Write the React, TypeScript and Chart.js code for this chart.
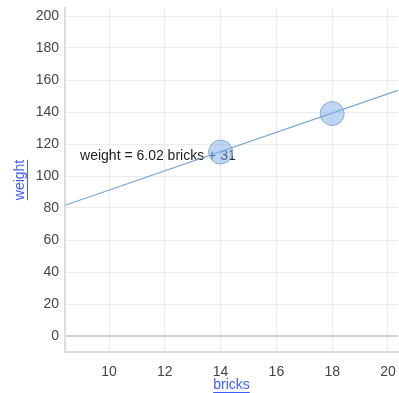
import React, { useEffect, useRef } from "react";
import { Chart, registerables } from "chart.js";

Chart.register(...registerables);

const bricks = [14, 18];
const weights = [115, 139];
const slope = 6.02;
const intercept = 31;
const xTicks = [10, 12, 14, 16, 18, 20];
const yTicks = [0, 20, 40, 60, 80, 100, 120, 140, 160, 180, 200];
const xRange = [8.42, 20.36];
const yRange = [-10, 205];
const equationLabel = "weight = 6.02 bricks + 31";
const xTitle = "bricks";
const yTitle = "weight";

const FONT = "'Liberation Sans', Arial, sans-serif";

const titlesPlugin = {
  id: "titlesPlugin",
  beforeDatasetsDraw(chart: any) {
    const { ctx, scales } = chart;
    ctx.save();
    ctx.font = `14px ${FONT}`;
    ctx.fillStyle = "#222";
    ctx.textAlign = "left";
    ctx.textBaseline = "middle";
    const lx = scales.x.getPixelForValue(8.96);
    const ly = scales.y.getPixelForValue(112.5);
    ctx.fillText(equationLabel, lx, ly);
    ctx.restore();
  },
  afterDraw(chart: any) {
    const { ctx, chartArea } = chart;
    ctx.save();
    ctx.font = `14px ${FONT}`;
    ctx.fillStyle = "#3d5cff";
    ctx.strokeStyle = "#3d5cff";
    ctx.lineWidth = 1;
    // x title
    const xw = ctx.measureText(xTitle).width;
    const xc = (chartArea.left + chartArea.right) / 2;
    const xy = 385;
    ctx.textAlign = "center";
    ctx.textBaseline = "middle";
    ctx.fillText(xTitle, xc, xy);
    ctx.beginPath();
    ctx.moveTo(xc - xw / 2, xy + 7.5);
    ctx.lineTo(xc + xw / 2, xy + 7.5);
    ctx.stroke();
    // y title
    const yw = ctx.measureText(yTitle).width;
    const yc = (chartArea.top + chartArea.bottom) / 2;
    ctx.translate(20, yc);
    ctx.rotate(-Math.PI / 2);
    ctx.fillText(yTitle, 0, 0);
    ctx.beginPath();
    ctx.moveTo(-yw / 2, 7.5);
    ctx.lineTo(yw / 2, 7.5);
    ctx.stroke();
    ctx.restore();
  },
};

export default function App() {
  const ref = useRef<HTMLCanvasElement>(null);
  useEffect(() => {
    document.body.style.margin = "0";
    const trend = [
      { x: xRange[0], y: slope * xRange[0] + intercept },
      { x: xRange[1], y: slope * xRange[1] + intercept },
    ];
    const chart = new Chart(ref.current!, {
      type: "scatter",
      data: {
        datasets: [
          {
            data: bricks.map((b, i) => ({ x: b, y: weights[i] })),
            backgroundColor: "rgba(125,172,232,0.5)",
            borderColor: "#8aabd0",
            borderWidth: 1,
            pointRadius: 12,
            order: 1,
          },
          {
            type: "line",
            data: trend,
            borderColor: "#74a3d3",
            borderWidth: 1.2,
            pointRadius: 0,
            fill: false,
            order: 2,
          } as any,
        ],
      },
      options: {
        animation: false,
        responsive: true,
        maintainAspectRatio: false,
        layout: { autoPadding: false, padding: { left: 0, right: 1, top: 8, bottom: 0 } },
        plugins: { legend: { display: false }, tooltip: { enabled: false } },
        scales: {
          x: {
            type: "linear",
            min: xRange[0],
            max: xRange[1],
            afterBuildTicks: (s: any) => {
              s.ticks = xTicks.map((v) => ({ value: v }));
            },
            afterFit: (s: any) => {
              s.height = 41;
              s.paddingLeft = 0;
              s.paddingRight = 0;
            },
            ticks: {
              font: { family: FONT, size: 14 },
              color: "#444",
              padding: 12,
              maxRotation: 0,
              autoSkip: false,
            },
            grid: { color: "#ebebeb", drawTicks: false, lineWidth: 1 },
            border: { color: "#dcdcdc", width: 2 },
          },
          y: {
            type: "linear",
            min: yRange[0],
            max: yRange[1],
            afterBuildTicks: (s: any) => {
              s.ticks = yTicks.map((v) => ({ value: v }));
            },
            afterFit: (s: any) => {
              s.width = 65;
              s.paddingTop = 0;
              s.paddingBottom = 0;
            },
            ticks: {
              font: { family: FONT, size: 14 },
              color: "#444",
              padding: 6,
              autoSkip: false,
            },
            grid: {
              color: (c: any) => (c.tick && c.tick.value === 0 ? "#cfcfcf" : "#ebebeb"),
              lineWidth: (c: any) => (c.tick && c.tick.value === 0 ? 2 : 1),
              drawTicks: false,
            },
            border: { color: "#dcdcdc", width: 2 },
          },
        },
      },
      plugins: [titlesPlugin],
    });
    return () => chart.destroy();
  }, []);
  return (
    <div style={{ position: "relative", width: 399, height: 393 }}>
      <canvas ref={ref} />
    </div>
  );
}
